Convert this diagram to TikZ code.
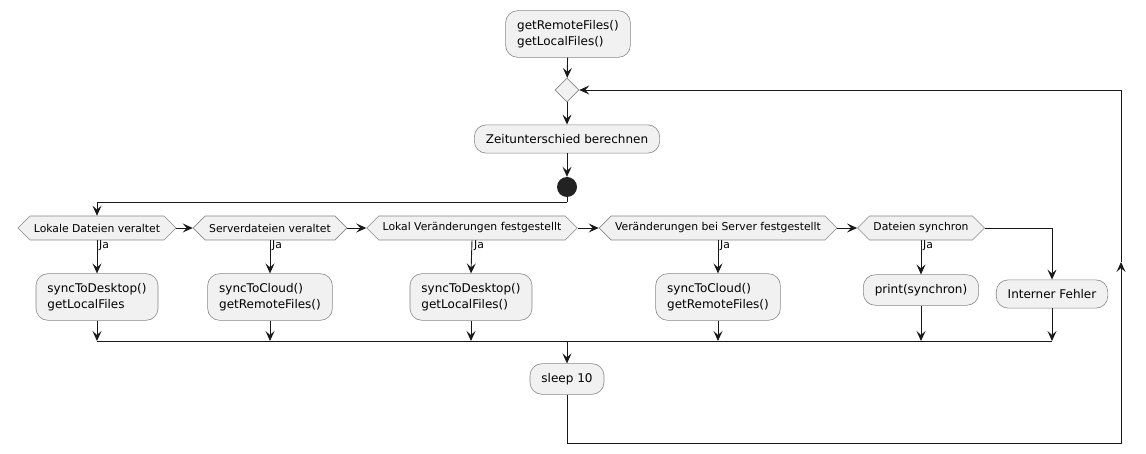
\documentclass[tikz,border=0pt]{standalone}
\usepackage{fontspec}
\setmainfont{DejaVu Sans}
\usepackage{xcolor}
\definecolor{boxfill}{HTML}{F1F1F1}
\definecolor{boxline}{HTML}{888888}
\definecolor{flowline}{HTML}{181818}
\definecolor{startdot}{HTML}{222222}
\usetikzlibrary{arrows.meta,shapes.symbols,shapes.geometric,positioning,calc}

\begin{document}
\begin{tikzpicture}[x=1pt, y=-1pt,
    act/.style={rectangle, rounded corners=12pt, draw=boxline, fill=boxfill, line width=0.6pt, text=black, font=\fontsize{12}{16}\selectfont, align=left, inner xsep=11.5pt, inner ysep=9.5pt},
    cond/.style={signal, signal to=west and east, draw=boxline, fill=boxfill, line width=0.6pt, text=black, font=\fontsize{10.8}{12}\selectfont, minimum height=24pt, inner xsep=4pt, inner ysep=2pt},
    flow/.style={draw=flowline, line width=0.9pt},
    arr/.style={flow, -{Stealth[length=10pt, width=9pt, inset=4pt]}},
    yes/.style={font=\fontsize{10.8}{12}\selectfont, anchor=west, inner sep=1pt},
  ]
    \useasboundingbox (0,0) rectangle (1146,454);
    % Top
    \node[act] (init) at (568,34) {getRemoteFiles()\\getLocalFiles()};
    \node[diamond, draw=boxline, fill=boxfill, line width=0.6pt, minimum size=24pt, inner sep=0pt] (loop) at (567,90) {};
    \node[act] (diff) at (567,139) {Zeitunterschied berechnen};
    \node[circle, fill=startdot, minimum size=20pt, inner sep=0pt] (dot) at (567,187) {};
    \coordinate (split) at (567,202);
    % Conditions
    \node[cond] (c1) at (97,228) {Lokale Dateien veraltet};
    \node[cond] (c2) at (270,228) {Serverdateien veraltet};
    \node[cond] (c3) at (472,228) {Lokal Veränderungen festgestellt};
    \node[cond] (c4) at (718,228) {Veränderungen bei Server festgestellt};
    \node[cond] (c5) at (921,228) {Dateien synchron};
    % Actions
    \node[act] (a1) at (97,297) {syncToDesktop()\\getLocalFiles};
    \node[act] (a2) at (270,297) {syncToCloud()\\getRemoteFiles()};
    \node[act] (a3) at (471,297) {syncToDesktop()\\getLocalFiles()};
    \node[act] (a4) at (718,297) {syncToCloud()\\getRemoteFiles()};
    \node[act] (a5) at (921,290) {print(synchron)};
    \node[act] (a6) at (1052,294) {Interner Fehler};
    \coordinate (merge) at (567,341);
    \node[act] (sleep) at (567,379) {sleep 10};
    \coordinate (back1) at (1121,443);
    \coordinate (back2) at (1121,262);
    \coordinate (back3) at (1121,90);
    % Labels
    \node[yes] at (98,246) {Ja};
    \node[yes] at (271,246) {Ja};
    \node[yes] at (473,246) {Ja};
    \node[yes] at (719,246) {Ja};
    \node[yes] at (922,246) {Ja};
    % Flow
    \draw[arr] (init) -- (loop);
    \draw[arr] (loop) -- (diff);
    \draw[arr] (diff) -- (dot);
    \draw[flow] (dot) -- (split);
    \draw[arr] (split) -| (c1.north);
    \draw[arr] (c1.east) -- (c2.west);
    \draw[arr] (c2.east) -- (c3.west);
    \draw[arr] (c3.east) -- (c4.west);
    \draw[arr] (c4.east) -- (c5.west);
    \draw[arr] (c5.east) -| (a6.north);
    \foreach \i in {1,...,5}
      \draw[arr] (c\i.south) -- (a\i.north);
    \foreach \i in {1,...,6}
      \draw[arr] (a\i.south) -- (a\i.south |- merge);
    \draw[flow] (a1.south |- merge) -- (a6.south |- merge);
    \draw[arr] (merge) -- (sleep);
    \draw[arr] (sleep.south) |- (back1) -- (back2);
    \draw[arr] (back2) -- (back3) -- (loop.east);
  \end{tikzpicture}
\end{document}
